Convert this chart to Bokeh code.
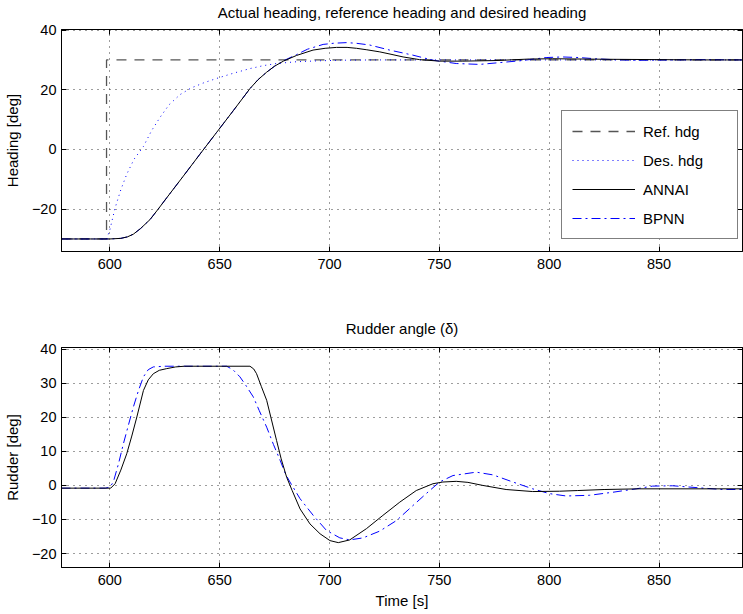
from bokeh.plotting import figure
from bokeh.layouts import column
from bokeh.models import Range1d, FixedTicker, LinearAxis, Legend, LegendItem
from bokeh.embed import file_html
from bokeh.resources import INLINE

FONT = "Liberation Sans"

# ---- heading data [deg] vs time [s] ----
ref_t = [578, 598.5, 598.5, 888]
ref_hdg = [-30, -30, 30, 30]

des_t = [578, 598.5, 600, 602.4, 605, 607.7, 611, 615.3, 619, 622.9, 627, 632,
         637, 643, 648.6, 656, 663.8, 670, 675.9, 685, 695, 705, 720, 888]
des_hdg = [-30, -30, -27, -19.6, -13.5, -8.3, -3.3, 1.0, 6.3, 10.8, 15.0, 18.4,
           20.6, 22.4, 23.8, 25.5, 27.1, 28.1, 28.8, 29.4, 29.7, 29.9, 30, 30]

annai_t = [578, 600, 605, 608, 610.7, 614, 618.3, 622, 625.9, 633.5, 641, 648.6,
           656.2, 663.8, 667.5, 671.4, 675, 679, 685, 692.5, 698, 703.2, 708,
           712.3, 717, 722.9, 728, 733.5, 741, 750.1, 760.7, 775.8, 791, 801.6,
           815, 830, 850, 870, 888]
annai_hdg = [-30, -30, -29.8, -29.3, -28.4, -26.5, -23.5, -20.0, -16.2, -8.9,
             -1.6, 5.7, 13.0, 20.4, 23.4, 25.9, 27.9, 29.6, 31.5, 33.3, 33.9,
             34.2, 34.2, 33.9, 33.4, 32.7, 31.9, 31.0, 30.1, 29.6, 29.6, 29.8,
             30.3, 30.4, 30.3, 30.2, 30.1, 30.0, 30.0]

bpnn_t = [578, 600, 605, 608, 610.7, 614, 618.3, 622, 625.9, 633.5, 641, 648.6,
          656.2, 663.8, 667.5, 671.4, 675, 679, 685, 690, 697.1, 702, 707.7,
          712, 718.3, 727.4, 738, 747.1, 757.7, 768.3, 777.4, 786.5, 798.6,
          806, 813.6, 821, 829, 840, 855, 870, 888]
bpnn_hdg = [-30, -30, -29.8, -29.3, -28.4, -26.5, -23.5, -20.0, -16.2, -8.9,
            -1.6, 5.7, 13.0, 20.4, 23.4, 25.9, 27.9, 29.7, 31.8, 33.6, 35.2,
            35.6, 35.8, 35.6, 35.0, 33.3, 31.6, 29.9, 28.8, 28.5, 29.1, 29.7,
            30.8, 31.0, 30.8, 30.4, 30.1, 29.9, 30.0, 30.1, 30.0]

# ---- rudder angle data [deg] vs time [s] ----
annai_rt = [578, 600.4, 602.4, 605, 607.7, 610, 612.3, 615.3, 617.5, 619.8,
            622.5, 625.9, 630, 634, 663.8, 665.5, 666.8, 669, 671.4, 673.5,
            675.9, 678, 680.5, 683, 686.6, 691.1, 695.7, 700.2, 704, 709.2,
            716.8, 724.3, 732, 739.5, 747.1, 751.6, 757.7, 763, 769.8, 780.4,
            792.5, 804.7, 813, 825, 841, 860, 888]
annai_rud = [-0.8, -0.8, 0.5, 4.5, 9.3, 14.5, 20.1, 27.9, 31.0, 32.8, 33.8,
             34.3, 34.8, 35.0, 35.0, 34.2, 32.8, 29.0, 25.0, 19.5, 13.2, 7.8,
             2.4, -1.5, -6.9, -11.3, -14.2, -16.2, -16.8, -16.0, -12.7, -8.8,
             -4.9, -1.5, 0.5, 1.0, 1.2, 0.9, 0.0, -1.2, -1.8, -1.7, -1.5, -1.2,
             -1.0, -1.0, -1.0]

bpnn_rt = [578, 598, 600, 601.6, 604, 606.2, 608.5, 610.7, 613, 615.3, 617.5,
           619.8, 625, 653.2, 656, 659.2, 662, 665.3, 668, 671.4, 674.5, 677.5,
           680, 682, 686.6, 692.6, 698.6, 704.7, 709.2, 715.3, 722.9, 730.5,
           738, 745.6, 750.1, 756.2, 766.8, 774.4, 783.5, 792.5, 800.1, 807.7,
           818.3, 829, 839.6, 847.1, 856.2, 868.3, 878.9, 888]
bpnn_rud = [-0.8, -0.8, -0.5, 1.0, 6.5, 12.3, 17.8, 23.0, 27.8, 31.9, 34.0,
            34.8, 35.0, 35.0, 34.0, 31.9, 29.3, 26.0, 22.0, 17.1, 12.0, 7.4,
            3.3, 1.0, -3.9, -8.8, -13.2, -15.4, -16.0, -15.4, -13.4, -10.3,
            -5.9, -1.5, 1.0, 2.9, 3.9, 3.1, 1.0, -1.0, -2.4, -3.1, -2.9, -2.0,
            -1.0, -0.2, -0.1, -0.7, -1.2, -1.2]

x_ticks = [600, 650, 700, 750, 800, 850]
hdg_ticks = [-20, 0, 20, 40]
rud_ticks = [-20, -10, 0, 10, 20, 30, 40]


def style_axis(ax, ticks, show_labels=True):
    ax.ticker = FixedTicker(ticks=ticks)
    ax.axis_line_color = "black"
    ax.axis_line_width = 1
    ax.major_tick_line_color = "black"
    ax.major_tick_in = 5
    ax.major_tick_out = 0
    ax.minor_tick_line_color = None
    ax.major_label_text_font = FONT
    ax.axis_label_text_font = FONT
    ax.axis_label_text_font_style = "normal"
    ax.axis_label_text_color = "black"
    ax.axis_label_text_font_size = "15px"
    if show_labels:
        ax.major_label_text_color = "black"
        ax.major_label_text_font_size = "14.5px"
    else:
        # box-side axis: tick marks only, no labels drawn
        ax.major_label_text_color = None
        ax.major_label_text_font_size = "1px"
        ax.major_label_standoff = 0


def make_fig(height, y_range, y_ticks, title, ylabel, xlabel, top, bottom,
             title_standoff):
    p = figure(width=743, height=height, x_range=Range1d(578, 888),
               y_range=y_range, output_backend="svg", toolbar_location=None,
               min_border_left=61, min_border_right=1,
               min_border_top=top, min_border_bottom=bottom)
    p.title.text = title
    p.title.align = "center"
    p.title.text_font = FONT
    p.title.text_font_size = "15px"
    p.title.text_font_style = "normal"
    p.title.text_color = "black"
    p.title.standoff = title_standoff
    p.outline_line_color = "black"
    p.outline_line_alpha = 1
    p.background_fill_color = "white"
    p.border_fill_color = "white"

    style_axis(p.xaxis[0], x_ticks)
    p.xaxis[0].major_label_standoff = 7
    if xlabel:
        p.xaxis[0].axis_label = xlabel
        p.xaxis[0].axis_label_standoff = 4
    style_axis(p.yaxis[0], y_ticks)
    p.yaxis[0].major_label_standoff = 5
    p.yaxis[0].axis_label = ylabel
    p.yaxis[0].axis_label_standoff = 8

    top_ax = LinearAxis()
    style_axis(top_ax, x_ticks, show_labels=False)
    p.add_layout(top_ax, "above")
    right_ax = LinearAxis()
    style_axis(right_ax, y_ticks, show_labels=False)
    p.add_layout(right_ax, "right")

    for g in (p.xgrid[0], p.ygrid[0]):
        g.grid_line_color = "#3a3a3a"
        g.grid_line_dash = "1 5"
        g.grid_line_width = 1
    p.xgrid[0].ticker = FixedTicker(ticks=x_ticks)
    p.ygrid[0].ticker = FixedTicker(ticks=y_ticks)
    return p


# ---- heading panel (pulled up so its frame starts near the page top) ----
p1 = make_fig(308, Range1d(-34.2, 40.2), hdg_ticks,
              "Actual heading, reference heading and desired heading",
              "Heading [deg]", None, 37, 49, 18)
p1.margin = (-8, 0, 0, 0)
r_ref = p1.line(ref_t, ref_hdg, line_color="#555555", line_width=1.3,
                line_dash="10 8")
r_des = p1.line(des_t, des_hdg, line_color="#0000ff", line_width=1,
                line_dash="1 4")
r_bp = p1.line(bpnn_t, bpnn_hdg, line_color="#0000ff", line_width=1,
               line_dash="9 4 2 4")
r_an = p1.line(annai_t, annai_hdg, line_color="black", line_width=1)

legend = Legend(items=[
    LegendItem(label="Ref. hdg", renderers=[r_ref]),
    LegendItem(label="Des. hdg", renderers=[r_des]),
    LegendItem(label="ANNAI", renderers=[r_an]),
    LegendItem(label="BPNN", renderers=[r_bp]),
], location=(500, 12))
legend.label_text_font = FONT
legend.label_text_font_size = "15px"
legend.label_text_color = "black"
legend.glyph_width = 63
legend.glyph_height = 20
legend.label_height = 20
legend.label_width = 84
legend.label_standoff = 8
legend.spacing = 9
legend.padding = 10
legend.margin = 0
legend.border_line_color = "black"
legend.border_line_width = 1
legend.background_fill_color = "white"
legend.background_fill_alpha = 1
p1.add_layout(legend, "center")

# ---- rudder panel ----
p2 = make_fig(314, Range1d(-24.1, 40.5), rud_ticks,
              "Rudder angle (\u03b4)", "Rudder [deg]", "Time [s]", 47, 47, 21)
p2.line(bpnn_rt, bpnn_rud, line_color="#0000ff", line_width=1,
        line_dash="9 4 2 4")
p2.line(annai_rt, annai_rud, line_color="black", line_width=1)

layout = column(p1, p2, spacing=0)
open("out.html", "w").write(file_html(layout, INLINE))
